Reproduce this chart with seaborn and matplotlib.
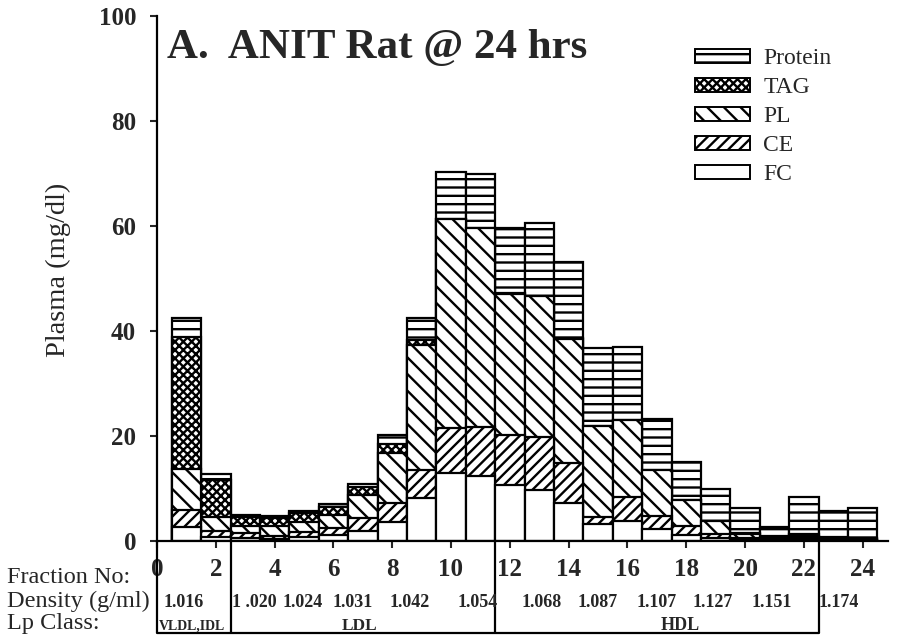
import matplotlib
matplotlib.use("Agg")
import matplotlib.pyplot as plt
import numpy as np
import pandas as pd
import seaborn as sns
from matplotlib.patches import Patch

# ---------------- data ----------------
fractions = list(range(1, 25))
fc      = [2.7, 0.8, 0.5, 0.4, 0.8, 1.1, 1.9, 3.7, 8.1, 13.0, 12.4, 10.7, 9.8, 7.2, 3.2, 3.9, 2.2, 1.1, 0.5, 0.3, 0.2, 0.2, 0.2, 0.1]
ce      = [3.3, 1.2, 1.0, 0.6, 1.0, 1.3, 2.4, 3.5, 5.4, 8.5, 9.4, 9.5, 10.1, 7.7, 1.4, 4.4, 2.5, 1.7, 0.8, 0.3, 0.2, 0.3, 0.2, 0.1]
pl      = [7.7, 2.6, 1.3, 1.9, 1.9, 2.6, 4.5, 9.6, 23.8, 39.8, 37.8, 26.8, 26.8, 23.6, 17.3, 14.7, 8.9, 5.0, 2.6, 0.7, 0.4, 0.5, 0.2, 0.2]
tag     = [25.2, 7.0, 1.8, 1.5, 1.6, 1.4, 1.4, 1.7, 1.0, 0.0, 0.0, 0.3, 0.0, 0.2, 0.0, 0.0, 0.0, 0.0, 0.0, 0.3, 0.2, 0.3, 0.2, 0.1]
protein = [3.6, 1.2, 0.4, 0.4, 0.5, 0.6, 0.6, 1.7, 4.1, 9.0, 10.4, 12.4, 13.8, 14.4, 14.8, 14.0, 9.7, 7.3, 6.1, 4.7, 1.7, 7.0, 5.0, 5.7]

components = ["FC", "CE", "PL", "TAG", "Protein"]
hatches = {"Protein": "--", "TAG": "xxxx", "PL": "\\\\", "CE": "///", "FC": ""}

fraction_ticks = list(range(0, 25, 2))
density_labels = ["1.016", "1 .020", "1.024", "1.031", "1.042", "1.054",
                  "1.068", "1.087", "1.107", "1.127", "1.151", "1.174"]
density_pos = [0.9, 3.3, 4.95, 6.65, 8.6, 10.9, 13.1, 15.0, 17.0, 18.9, 20.9, 23.2]
lp_classes = ["VLDL,IDL", "LDL", "HDL"]
lp_pos = [1.2, 6.9, 17.8]
lp_bounds = [0, 2.5, 11.5, 22.5]

# ---------------- style ----------------
sns.set_style("white")
plt.rcParams["font.family"] = ["Liberation Serif", "DejaVu Serif"]
plt.rcParams["hatch.linewidth"] = 1.7
plt.rcParams["hatch.color"] = "black"

W, H = 897, 638
fig = plt.figure(figsize=(W / 100, H / 100), dpi=100)
x0_px, x1_px, y0_px, y1_px = 157, 888, 541, 16
ax = fig.add_axes([x0_px / W, 1 - y0_px / H, (x1_px - x0_px) / W, (y0_px - y1_px) / H])

df = pd.DataFrame({"fraction": fractions, "FC": fc, "CE": ce, "PL": pl, "TAG": tag, "Protein": protein})
cum = df[components].cumsum(axis=1)
cum["fraction"] = df["fraction"]

for name in ["Protein", "TAG", "PL", "CE", "FC"]:
    sns.barplot(data=cum, x="fraction", y=name, native_scale=True, width=1.0,
                color="white", saturation=1, edgecolor="black", linewidth=1.6,
                hatch=hatches[name], errorbar=None, ax=ax)

xr = (x1_px - x0_px) / 29.4
ax.set_xlim(0, xr)
ax.set_ylim(0, 100)
ax.set_xlabel("")
ax.set_ylabel("")
for s in ["top", "right"]:
    ax.spines[s].set_visible(False)
for s in ["left", "bottom"]:
    ax.spines[s].set_linewidth(1.6)
    ax.spines[s].set_color("black")

ax.set_yticks([0, 20, 40, 60, 80, 100])
ax.set_yticklabels(["0", "20", "40", "60", "80", "100"], fontsize=18, fontweight="bold")
ax.set_xticks(fraction_ticks)
ax.set_xticklabels([str(t) for t in fraction_ticks], fontsize=18, fontweight="bold")
ax.tick_params(axis="y", direction="out", length=5, width=1.5, pad=10, left=True)
ax.tick_params(axis="x", direction="out", length=5, width=1.5, pad=7, bottom=True)

# title
ax.text(0.34, (y0_px - 58) / 5.25, "A.  ANIT Rat @ 24 hrs", fontsize=31, fontweight="bold",
        ha="left", va="baseline")

# y label
fig.text(58 / W, 1 - 270 / H, "Plasma (mg/dl)", rotation=90, fontsize=20.5,
         ha="center", va="center")

# legend
handles = [Patch(facecolor="white", edgecolor="black", hatch=hatches[n], linewidth=1.4, label=n)
           for n in ["Protein", "TAG", "PL", "CE", "FC"]]
leg = ax.legend(handles=handles, loc="upper left", bbox_to_anchor=(695 / W, 1 - 48 / H),
                bbox_transform=fig.transFigure, frameon=False, fontsize=17,
                handlelength=2.35, handleheight=0.55, handletextpad=0.55,
                labelspacing=0.34, borderpad=0, borderaxespad=0)

# bottom table
def vpx(py):
    return (y0_px - py) / 5.25

fig.text(7 / W, 1 - 583 / H, "Fraction No:", fontsize=17.5, ha="left", va="baseline")
fig.text(7 / W, 1 - 607 / H, "Density (g/ml)", fontsize=17.5, ha="left", va="baseline")
fig.text(7 / W, 1 - 629 / H, "Lp Class:", fontsize=17.5, ha="left", va="baseline")

for lab, p in zip(density_labels, density_pos):
    ax.text(p, vpx(607), lab, fontsize=13, fontweight="bold", ha="center", va="baseline", clip_on=False)
for lab, p, fs in zip(lp_classes, lp_pos, [10, 12.5, 13]):
    ax.text(p, vpx(630), lab, fontsize=fs, fontweight="bold", ha="center", va="baseline", clip_on=False)

ybot = vpx(633)
for b in lp_bounds:
    ax.plot([b, b], [0, ybot], color="black", lw=1.6, clip_on=False, solid_capstyle="butt")
ax.plot([lp_bounds[0], lp_bounds[-1]], [ybot, ybot], color="black", lw=1.6, clip_on=False)

fig.savefig("out.png", dpi=100)
